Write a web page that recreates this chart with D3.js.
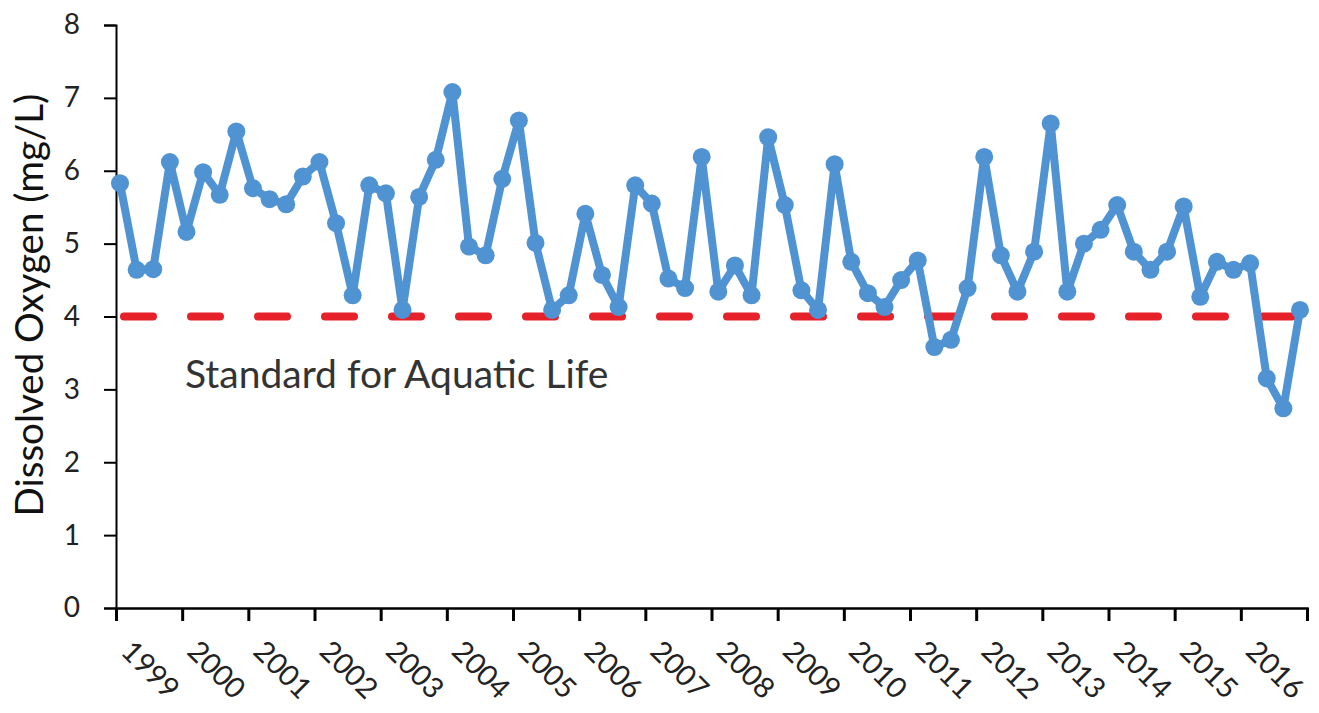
<!DOCTYPE html>
<html>
<head>
<meta charset="utf-8">
<script src="https://cdn.jsdelivr.net/npm/d3@7"></script>
<style>
  html, body { margin: 0; padding: 0; background: #fff; }
  svg { display: block; }
</style>
</head>
<body>
<svg id="chart" width="1319" height="713"></svg>
<script>
// ---- data ----
const yearTicks = [1999, 2000, 2001, 2002, 2003, 2004, 2005, 2006, 2007, 2008, 2009, 2010, 2011, 2012, 2013, 2014, 2015, 2016, 2017];
const yearLabels = ["1999", "2000", "2001", "2002", "2003", "2004", "2005", "2006", "2007", "2008", "2009", "2010", "2011", "2012", "2013", "2014", "2015", "2016", ""];
const yTicks = [0, 1, 2, 3, 4, 5, 6, 7, 8];
const dissolvedOxygen = [
  5.83, 4.64, 4.65, 6.12, 5.16, 5.98, 5.67, 6.54, 5.76, 5.61, 5.54, 5.92,
  6.12, 5.28, 4.29, 5.80, 5.69, 4.09, 5.64, 6.15, 7.08, 4.96, 4.84, 5.89,
  6.69, 5.01, 4.09, 4.29, 5.41, 4.57, 4.13, 5.80, 5.55, 4.52, 4.39, 6.19,
  4.34, 4.70, 4.29, 6.46, 5.53, 4.36, 4.09, 6.09, 4.75, 4.32, 4.13, 4.50,
  4.77, 3.58, 3.68, 4.39, 6.19, 4.84, 4.34, 4.89, 6.65, 4.34, 5.00, 5.19,
  5.53, 4.89, 4.64, 4.89, 5.51, 4.27, 4.75, 4.64, 4.73, 3.15, 2.74, 4.09
];
const standardValue = 4;
const standardLabel = "Standard for Aquatic Life";
const yTitle = "Dissolved Oxygen (mg/L)";

// ---- layout ----
const svg = d3.select("#chart");
const plot = { left: 116, right: 1307, top: 25, bottom: 608 };
const fontFamily = "Lato, 'Open Sans', sans-serif";

const y = d3.scaleLinear().domain([0, 8]).range([plot.bottom, plot.top]);
const xYear = d3.scaleLinear().domain([1999, 2017]).range([plot.left, plot.right]);
const xIdx = d3.scaleLinear().domain([0, dissolvedOxygen.length - 1]).range([120, 1300]);

// ---- y axis ----
const yAxis = svg.append("g")
  .attr("transform", `translate(${plot.left},0)`)
  .call(d3.axisLeft(y).tickValues(yTicks).tickSize(12).tickPadding(24).tickFormat(d3.format("d")));
yAxis.select(".domain").attr("stroke", "#000").attr("stroke-width", 2);
yAxis.selectAll(".tick line").attr("stroke", "#000").attr("stroke-width", 2);
yAxis.selectAll(".tick text")
  .attr("font-family", fontFamily).attr("font-size", 28).attr("fill", "#222");

// ---- x axis ----
const xAxis = svg.append("g")
  .attr("transform", `translate(0,${plot.bottom})`)
  .call(d3.axisBottom(xYear).tickValues(yearTicks).tickSize(13)
    .tickFormat((d, i) => yearLabels[i]));
xAxis.select(".domain").attr("stroke", "#000").attr("stroke-width", 2.5);
xAxis.selectAll(".tick line").attr("stroke", "#000").attr("stroke-width", 3);
xAxis.selectAll(".tick text")
  .attr("font-family", fontFamily).attr("font-size", 29).attr("fill", "#222")
  .attr("x", null).attr("y", null).attr("dy", null)
  .attr("text-anchor", "start")
  .attr("transform", "translate(3,45) rotate(45)");

// ---- standard line ----
svg.append("line")
  .attr("x1", xIdx(0) + 4).attr("x2", xIdx(dissolvedOxygen.length - 1))
  .attr("y1", y(standardValue)).attr("y2", y(standardValue))
  .attr("stroke", "#e6212a").attr("stroke-width", 8)
  .attr("stroke-linecap", "round")
  .attr("stroke-dasharray", "29,38");

svg.append("text")
  .attr("x", 185).attr("y", 388)
  .attr("font-family", fontFamily).attr("font-size", 39).attr("fill", "#333")
  .text(standardLabel);

// ---- series ----
const line = d3.line().x((d, i) => xIdx(i)).y(d => y(d));
svg.append("path")
  .datum(dissolvedOxygen)
  .attr("d", line)
  .attr("fill", "none")
  .attr("stroke", "#5093d3")
  .attr("stroke-width", 8)
  .attr("stroke-linejoin", "round");

svg.append("g").selectAll("circle")
  .data(dissolvedOxygen)
  .join("circle")
  .attr("cx", (d, i) => xIdx(i))
  .attr("cy", d => y(d))
  .attr("r", 9)
  .attr("fill", "#5093d3");

// ---- y title ----
svg.append("text")
  .attr("transform", `translate(43,${(95 + 515) / 2}) rotate(-90)`)
  .attr("text-anchor", "middle")
  .attr("font-family", fontFamily).attr("font-size", 38.5).attr("fill", "#111")
  .text(yTitle);
</script>
</body>
</html>
